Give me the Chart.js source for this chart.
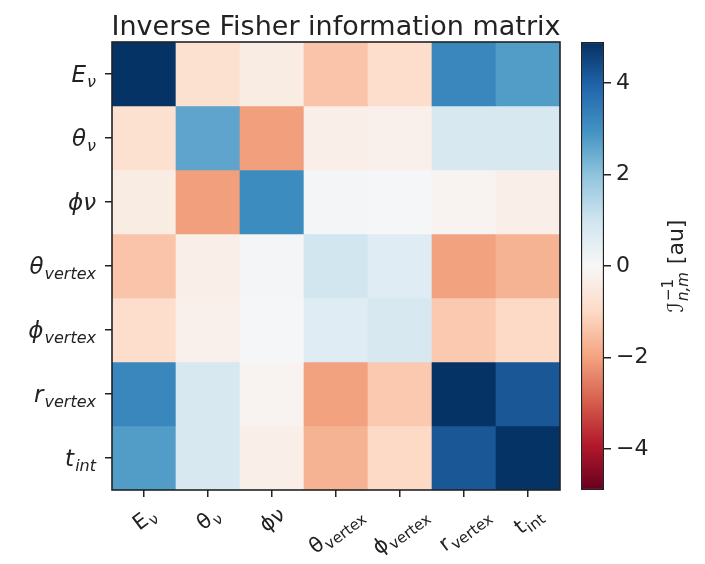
<!DOCTYPE html>
<html lang="en">
<head>
<meta charset="UTF-8">
<title>Inverse Fisher information matrix</title>
<script src="https://cdn.jsdelivr.net/npm/chart.js"></script>
<style>
    body { margin: 0; background: #fff; }
    #wrap { position: relative; width: 705px; height: 564px; }
    #wrap canvas { position: absolute; left: 0; top: 0; }
</style>
</head>
<body>
<div id="wrap">
    <canvas id="heatmap" width="705" height="564"></canvas>
    <canvas id="colorbar" width="705" height="564"></canvas>
</div>
<script>
// axis labels: main symbol + subscript (rows top->bottom, columns left->right)
const labelMain = ['E', 'θ', 'ϕν', 'θ', 'ϕ', 'r', 't'];
const labelSub = ['ν', 'ν', '', 'vertex', 'vertex', 'vertex', 'int'];

// inverse Fisher matrix values, one row per parameter
const rowE = [4.85, -0.8, -0.4, -1.4, -0.9, 3.2, 2.75];
const rowTheta = [-0.8, 2.6, -2.05, -0.3, -0.25, 0.8, 0.8];
const rowPhi = [-0.4, -2.05, 3.1, 0.1, 0.05, -0.15, -0.3];
const rowThetaV = [-1.4, -0.3, 0.1, 0.95, 0.6, -2.0, -1.7];
const rowPhiV = [-0.9, -0.25, 0.05, 0.6, 0.8, -1.3, -1.0];
const rowR = [3.2, 0.8, -0.15, -2.0, -1.3, 4.85, 4.2];
const rowT = [2.75, 0.8, -0.3, -1.7, -1.0, 4.2, 4.85];
const matrix = [rowE, rowTheta, rowPhi, rowThetaV, rowPhiV, rowR, rowT];

// colorbar limits and ticks
const vMin = -4.9, vMax = 4.9;
const cbTicks = [-4, -2, 0, 2, 4];

const FONT = "'DejaVu Sans', sans-serif";
const INK = '#222';

// matplotlib RdBu
const rdbu = ['#67001f', '#b2182b', '#d6604d', '#f4a582', '#fddbc7', '#f7f7f7',
              '#d1e5f0', '#92c5de', '#4393c3', '#2166ac', '#053061'];

function hexRgb(h) {
    return [1, 3, 5].map(i => parseInt(h.substr(i, 2), 16));
}

function colorFor(v) {
    let t = (v - vMin) / (vMax - vMin);
    t = Math.max(0, Math.min(1, t)) * 10;
    const i = Math.min(9, Math.floor(t));
    const f = t - i;
    const a = hexRgb(rdbu[i]), b = hexRgb(rdbu[i + 1]);
    const c = a.map((x, k) => Math.round(x + (b[k] - x) * f));
    return `rgb(${c[0]},${c[1]},${c[2]})`;
}

// draws "main" + subscript, starting at x, baseline y
function drawSubLabel(ctx, main, sub, x, y, size, subSize, style) {
    ctx.font = `${style} ${size}px ${FONT}`;
    ctx.fillText(main, x, y);
    const w = ctx.measureText(main).width;
    if (sub) {
        ctx.font = `${style} ${subSize}px ${FONT}`;
        ctx.fillText(sub, x + w + 1, y + size * 0.22);
    }
}

function subLabelWidth(ctx, main, sub, size, subSize, style) {
    ctx.font = `${style} ${size}px ${FONT}`;
    let w = ctx.measureText(main).width;
    if (sub) {
        ctx.font = `${style} ${subSize}px ${FONT}`;
        w += ctx.measureText(sub).width + 1;
    }
    return w;
}

const heatmapDecor = {
    id: 'heatmapDecor',
    afterDraw(chart) {
        const ctx = chart.ctx;
        const area = chart.chartArea;
        const xs = chart.scales.x, ys = chart.scales.y;
        ctx.save();
        // frame
        ctx.strokeStyle = INK;
        ctx.lineWidth = 1.6;
        ctx.strokeRect(area.left, area.top, area.right - area.left, area.bottom - area.top);

        ctx.fillStyle = INK;
        // title
        ctx.font = `27px ${FONT}`;
        ctx.textAlign = 'center';
        ctx.textBaseline = 'alphabetic';
        ctx.fillText('Inverse Fisher information matrix', (area.left + area.right) / 2, 35);

        // y labels (italic, right aligned)
        ctx.textAlign = 'left';
        labelMain.forEach((m, i) => {
            const y = ys.getPixelForValue(i + 0.5);
            const w = subLabelWidth(ctx, m, labelSub[i], 23, 16, 'italic');
            drawSubLabel(ctx, m, labelSub[i], area.left - 16 - w, y + 8, 23, 16, 'italic');
        });

        // x labels (rotated)
        const ang = 37 * Math.PI / 180;
        const top = area.bottom + 15;
        labelMain.forEach((m, i) => {
            const x = xs.getPixelForValue(i);
            const w = subLabelWidth(ctx, m, labelSub[i], 21, 15, 'normal');
            const h = 17;
            const H = w * Math.sin(ang) + h * Math.cos(ang);
            ctx.save();
            ctx.translate(x, top + H / 2);
            ctx.rotate(-ang);
            drawSubLabel(ctx, m, labelSub[i], -w / 2, 7, 21, 15, 'normal');
            ctx.restore();
        });
        ctx.restore();
    }
};

new Chart(document.getElementById('heatmap'), {
    type: 'bar',
    data: {
        labels: labelMain.map((m, i) => m + labelSub[i]),
        datasets: matrix.map((row, r) => ({
            label: labelMain[r] + labelSub[r],
            data: row.map(() => 1),
            backgroundColor: row.map(colorFor),
            borderWidth: 0,
            barPercentage: 1,
            categoryPercentage: 1
        }))
    },
    options: {
        responsive: false,
        animation: false,
        layout: { padding: { left: 104, right: 145, top: 42, bottom: 66 } },
        plugins: {
            legend: { display: false },
            tooltip: { enabled: false }
        },
        scales: {
            x: {
                stacked: true,
                grid: { offset: false, drawOnChartArea: false, tickLength: 7, color: INK, lineWidth: 1.5 },
                border: { display: false },
                ticks: { display: false },
                afterFit: s => { s.height = 8; }
            },
            y: {
                stacked: true,
                min: 0,
                max: 7,
                reverse: true,
                afterBuildTicks: s => { s.ticks = labelMain.map((_, i) => ({ value: i + 0.5 })); },
                grid: { drawOnChartArea: false, tickLength: 7, color: INK, lineWidth: 1.5 },
                border: { display: false },
                ticks: { display: false },
                afterFit: s => { s.width = 8; }
            }
        }
    },
    plugins: [heatmapDecor]
});

const colorbarLabel = {
    id: 'colorbarLabel',
    afterDraw(chart) {
        const ctx = chart.ctx;
        const area = chart.chartArea;
        ctx.save();
        ctx.fillStyle = INK;
        ctx.textBaseline = 'alphabetic';
        ctx.textAlign = 'left';
        ctx.translate(683, (area.top + area.bottom) / 2);
        ctx.rotate(-Math.PI / 2);
        ctx.font = `22px ${FONT}`;
        const wI = ctx.measureText('ℐ').width;
        ctx.font = `15px ${FONT}`;
        const wSup = ctx.measureText('−1').width;
        ctx.font = `italic 15px ${FONT}`;
        const wSub = ctx.measureText('n,m').width;
        ctx.font = `22px ${FONT}`;
        const wAu = ctx.measureText(' [au]').width;
        const total = wI + Math.max(wSup, wSub) + 2 + wAu;
        let x = -total / 2;
        ctx.font = `22px ${FONT}`;
        ctx.fillText('ℐ', x, 0);
        x += wI + 1;
        ctx.font = `15px ${FONT}`;
        ctx.fillText('−1', x, -10);
        ctx.font = `italic 15px ${FONT}`;
        ctx.fillText('n,m', x, 5);
        x += Math.max(wSup, wSub) + 1;
        ctx.font = `22px ${FONT}`;
        ctx.fillText(' [au]', x, 0);
        ctx.restore();
    }
};

new Chart(document.getElementById('colorbar'), {
    type: 'bar',
    data: {
        labels: [''],
        datasets: [{
            data: [[vMin, vMax]],
            backgroundColor: ctx => {
                const a = ctx.chart.chartArea;
                if (!a) return rdbu[5];
                const g = ctx.chart.ctx.createLinearGradient(0, a.bottom, 0, a.top);
                rdbu.forEach((c, i) => g.addColorStop(i / 10, c));
                return g;
            },
            borderColor: INK,
            borderWidth: 1.5,
            borderSkipped: false,
            barPercentage: 1,
            categoryPercentage: 1
        }]
    },
    options: {
        responsive: false,
        animation: false,
        layout: { padding: { left: 581, right: 41, top: 42, bottom: 74 } },
        plugins: {
            legend: { display: false },
            tooltip: { enabled: false }
        },
        scales: {
            x: { display: false },
            y: {
                position: 'right',
                min: vMin,
                max: vMax,
                afterBuildTicks: s => { s.ticks = cbTicks.map(v => ({ value: v })); },
                ticks: {
                    font: { family: FONT, size: 22 },
                    color: INK,
                    padding: 5,
                    callback: v => String(v).replace('-', '\u2212')
                },
                grid: { drawOnChartArea: false, tickLength: 7, color: INK, lineWidth: 1.5 },
                border: { display: false },
                afterFit: s => { s.width = 60; }
            }
        }
    },
    plugins: [colorbarLabel]
});
</script>
</body>
</html>
